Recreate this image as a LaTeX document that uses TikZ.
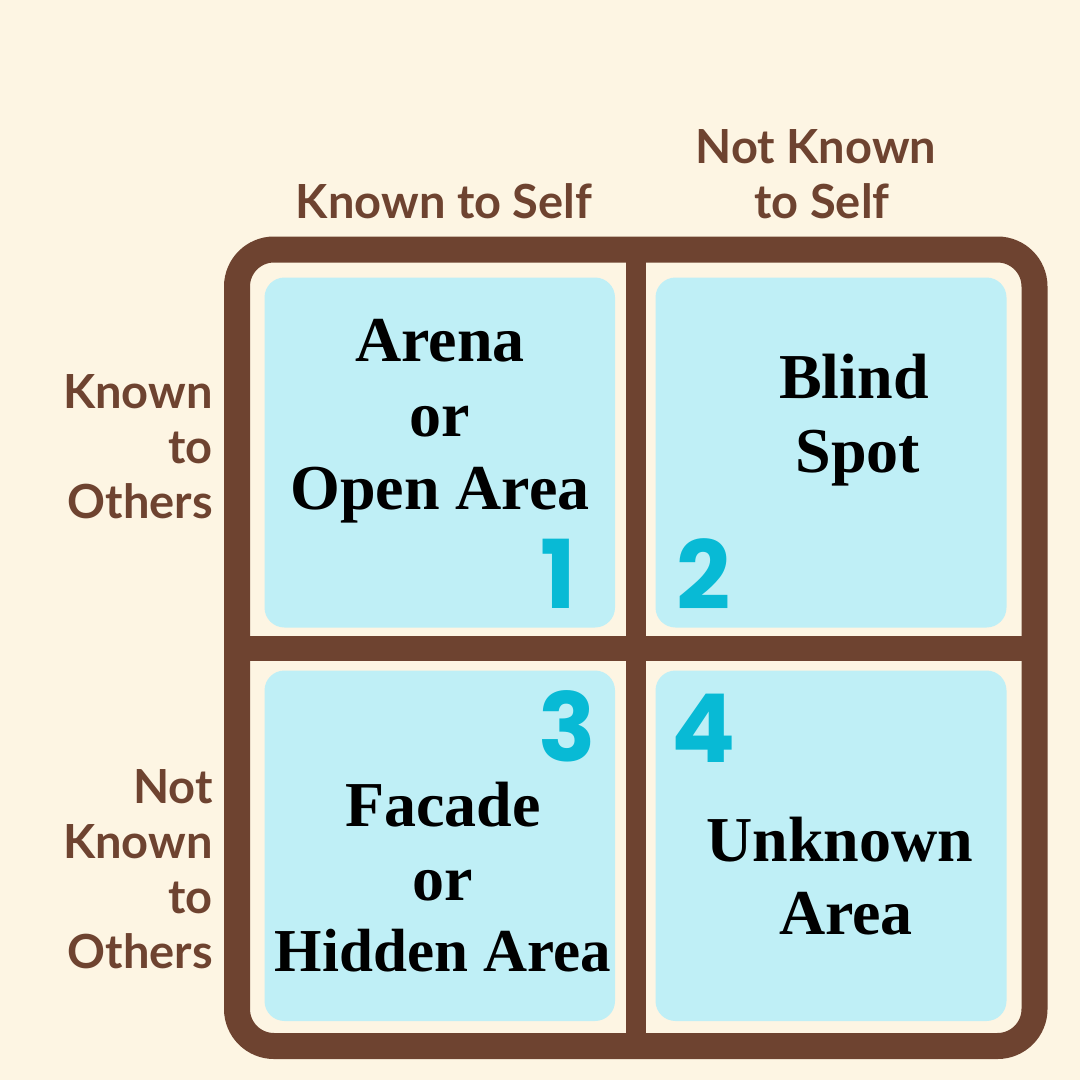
\documentclass[tikz,border=0pt]{standalone}
\usepackage{fontspec}
\newfontfamily\headfont{Lato}
\newfontfamily\boxfont{Liberation Serif}
\newfontfamily\numfont{Poppins}
\definecolor{bgc}{HTML}{FDF5E3}
\definecolor{brown}{HTML}{6E4330}
\definecolor{cellc}{HTML}{BFEFF6}
\definecolor{numc}{HTML}{08BAD5}
\tikzset{
  head/.style={inner sep=0pt, anchor=base, text=brown, font=\headfont\bfseries\fontsize{47}{55}\selectfont},
  headr/.style={head, anchor=base east},
  cell/.style={fill=cellc, rounded corners=20pt},
  celltext/.style={inner sep=0pt, anchor=base, text=black, font=\boxfont\bfseries\fontsize{64}{74}\selectfont},
  num/.style={inner sep=0pt, anchor=base, text=numc, font=\numfont\bfseries\fontsize{95}{95}\selectfont}
}
\begin{document}
\begin{tikzpicture}[x=1pt,y=-1pt]
\useasboundingbox (0,0) rectangle (1080,1080);
\fill[bgc] (0,0) rectangle (1080,1080);
% cells
\fill[cell] (264.5,277.5) rectangle (615,627.5);
\fill[cell] (655.5,277.5) rectangle (1006.5,627.5);
\fill[cell] (264.5,670.5) rectangle (615,1021);
\fill[cell] (655.5,670.5) rectangle (1006.5,1021);
% frame
\draw[brown, line width=26pt, rounded corners=37pt] (237,249.5) rectangle (1034.5,1046);
\draw[brown, line width=20pt] (635.5,249.5) -- (635.5,1046);
\draw[brown, line width=25pt] (237,648.5) -- (1034.5,648.5);
% headers
\node[head] (hks) at (444,218) {Known to Self};
\node[head] (hnk1) at (816,163) {Not Known};
\node[head] (hnk2) at (822,218) {to Self};
\node[headr] (ko1) at (213,408) {Known};
\node[headr] (ko2) at (213,463) {to};
\node[headr] (ko3) at (213,518) {Others};
\node[headr] (nk1) at (213,803) {Not};
\node[headr] (nk2) at (213,858) {Known};
\node[headr] (nk3) at (213,913) {to};
\node[headr] (nk4) at (213,968) {Others};
% cell texts
\node[celltext] (a1) at (440,361.5) {Arena};
\node[celltext] (a2) at (440,436) {or};
\node[celltext] (a3) at (440,509) {Open Area};
\node[celltext] (b1) at (854,398) {Blind};
\node[celltext] (b2) at (858,472.5) {Spot};
\node[celltext] (c1) at (443,826) {Facade};
\node[celltext] (c2) at (443,900) {or};
\node[celltext, font=\boxfont\bfseries\fontsize{61}{74}\selectfont] (c3) at (443,971.5) {Hidden Area};
\node[celltext] (d1) at (840,861) {Unknown};
\node[celltext] (d2) at (846,934) {Area};
% numbers
\node[num] (n1) at (558.5,608) {1};
\node[num] (n2) at (703.5,609) {2};
\node[num] (n3) at (567,761.5) {3};
\node[num] (n4) at (704,762) {4};
\end{tikzpicture}
\end{document}
